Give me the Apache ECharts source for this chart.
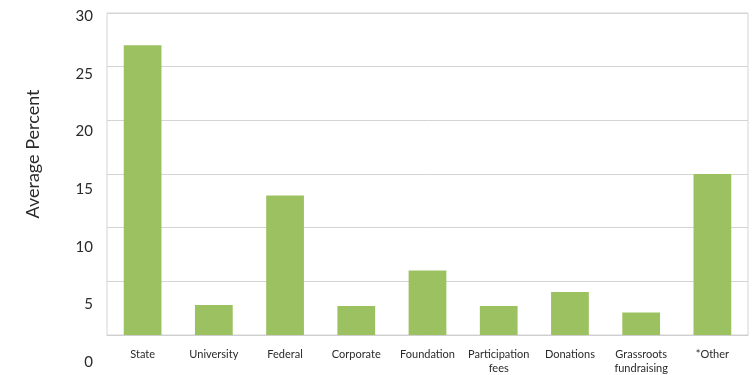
<!DOCTYPE html>
<html>
<head>
<meta charset="utf-8">
<script src="https://cdn.jsdelivr.net/npm/echarts@6/dist/echarts.min.js"></script>
<style>html,body{margin:0;padding:0;background:#fff;}#c{width:752px;height:375px;}</style>
</head>
<body>
<div id="c"></div>
<script>
var categories = ['State', 'University', 'Federal', 'Corporate', 'Foundation', 'Participation\nfees', 'Donations', 'Grassroots\nfundraising', '*Other'];
var values = [27.0, 2.8, 13.0, 2.7, 6.0, 2.7, 4.0, 2.1, 15.0];
var yTicks = [0, 5, 10, 15, 20, 25, 30];
var yName = 'Average Percent';

var chart = echarts.init(document.getElementById('c'));
var font = 'Lato';
chart.setOption({
  animation: false,
  backgroundColor: '#ffffff',
  grid: [
    { left: 107, right: 4, top: 13, bottom: 39, show: true, borderColor: '#d4d4d4', borderWidth: 1, backgroundColor: 'transparent' },
    { left: 107, right: 4, top: 16, bottom: 13, show: false }
  ],
  xAxis: [
    {
      type: 'category', data: categories, gridIndex: 0,
      axisLine: { show: true, lineStyle: { color: '#cfcfcf' } },
      axisTick: { show: false },
      axisLabel: { color: '#2a2a2a', fontSize: 11, fontFamily: font, margin: 12, lineHeight: 14, interval: 0 }
    },
    { type: 'category', data: categories, gridIndex: 1, show: false }
  ],
  yAxis: [
    {
      type: 'value', gridIndex: 0, min: yTicks[0], max: yTicks[yTicks.length - 1], interval: 5,
      axisLine: { show: false }, axisTick: { show: false }, axisLabel: { show: false },
      splitLine: { show: true, lineStyle: { color: '#d4d4d4', width: 1 } }
    },
    {
      type: 'value', gridIndex: 1, min: yTicks[0], max: yTicks[yTicks.length - 1], interval: 5,
      axisLine: { show: false }, axisTick: { show: false }, splitLine: { show: false },
      axisLabel: { color: '#2a2a2a', fontSize: 15, fontFamily: font, margin: 14 }
    }
  ],
  graphic: [{
    type: 'text', x: 33, y: 154, rotation: Math.PI / 2,
    style: { text: yName, fill: '#2a2a2a', font: '18px ' + font, textAlign: 'center', textVerticalAlign: 'middle' }
  }],
  series: [{
    type: 'bar', xAxisIndex: 0, yAxisIndex: 0, data: values,
    barWidth: '53%',
    itemStyle: { color: '#9bc161' }
  }]
});
</script>
</body>
</html>
